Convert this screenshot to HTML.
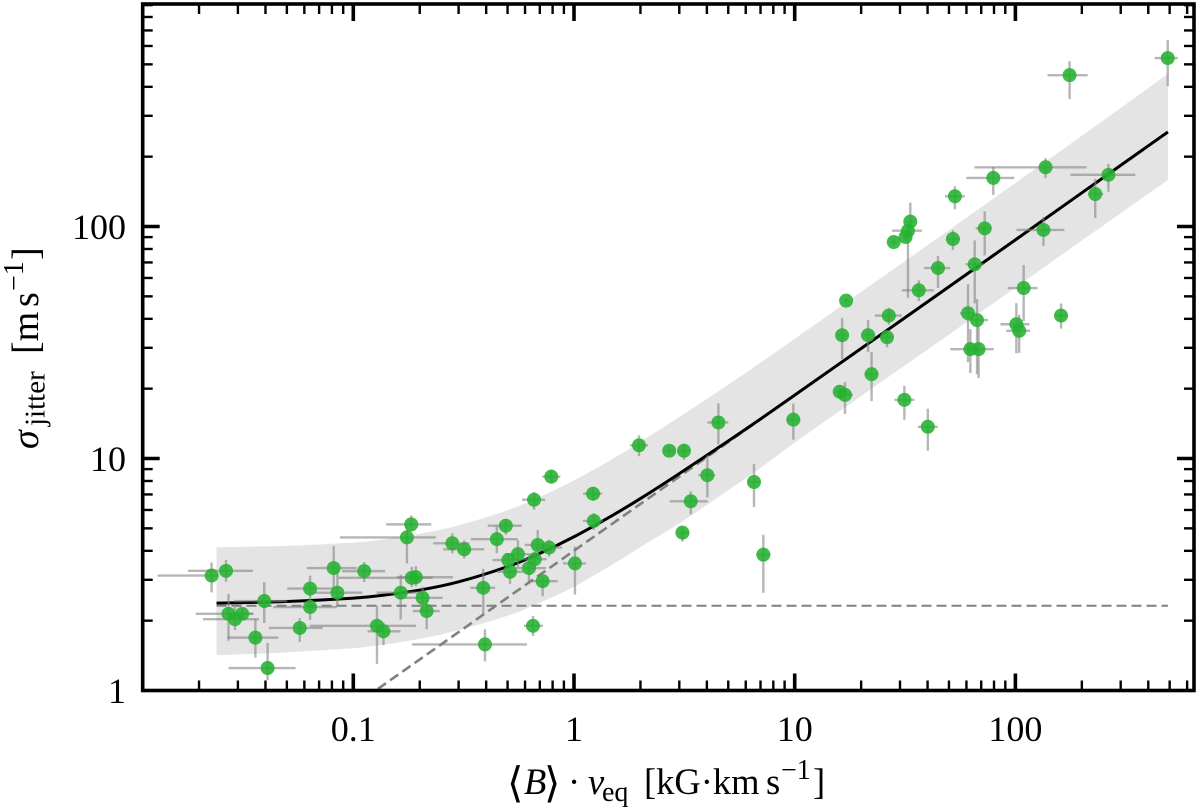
<!DOCTYPE html>
<html lang="en">
<head>
<meta charset="utf-8">
<title>Jitter versus magnetic activity</title>
<style>
html,body{margin:0;padding:0;background:#fff;}
svg{display:block;}
text{font-family:"Liberation Serif","DejaVu Serif",serif;fill:#000;}
</style>
</head>
<body>
<svg id="chart" xmlns="http://www.w3.org/2000/svg" width="1200" height="811" viewBox="0 0 1200 811">
  <defs>
    <clipPath id="plot-clip"><rect x="142.7" y="4" width="1051.3" height="686.5"/></clipPath>
  </defs>
  <rect x="0" y="0" width="1200" height="811" fill="#fff"/>
  <g clip-path="url(#plot-clip)">
    <path id="band" fill="#e4e4e4"/>
    <path id="floor-line" fill="none" stroke="#808080" stroke-width="2" stroke-dasharray="10 5"/>
    <path id="power-line" fill="none" stroke="#808080" stroke-width="2.6" stroke-dasharray="10 5"/>
    <path id="fit-line" fill="none" stroke="#000" stroke-width="3" stroke-linejoin="round"/>
    <g id="errors"></g>
    <g id="points"></g>
  </g>
  <g id="ticks"></g>
  <rect x="142.7" y="4" width="1051.3" height="686.5" fill="none" stroke="#000" stroke-width="3.6"/>
  <g id="tick-labels" font-size="36"></g>
  <g font-size="36.5">
    <text x="507" y="797" font-family="'DejaVu Serif',serif" font-size="42">⟨</text>
    <text x="524" y="794" font-style="italic">B</text>
    <text x="544" y="797" font-family="'DejaVu Serif',serif" font-size="42">⟩</text>
    <text x="568" y="794">·</text>
    <text x="588" y="794" font-style="italic">v</text>
    <text x="602" y="801" font-size="28">eq</text>
    <text x="644" y="794">[kG·km</text>
    <text x="766" y="794">s</text>
    <text x="781" y="779" font-size="28">−1</text>
    <text x="813" y="794">]</text>
  </g>
  <g font-size="38" transform="translate(38,0) rotate(-90)">
    <text x="-449" y="0" font-style="italic">σ</text>
    <text x="-426" y="6.5" font-size="29">jitter</text>
    <text x="-354" y="0">[m</text>
    <text x="-307" y="0">s</text>
    <text x="-291" y="-15" font-size="28">−1</text>
    <text x="-260" y="0">]</text>
  </g>
</svg>
<script>
/* Tick values */
const xMajorTicks = [0.1, 1, 10, 100];
const xMinorTicks = [0.02, 0.03, 0.04, 0.05, 0.06, 0.07, 0.08, 0.09, 0.2, 0.3, 0.4, 0.5, 0.6, 0.7, 0.8, 0.9, 2, 3, 4, 5, 6, 7, 8, 9, 20, 30, 40, 50, 60, 70, 80, 90, 200, 300, 400, 500, 600];
const yMajorTicks = [10, 100];
const yMinorTicks = [2, 3, 4, 5, 6, 7, 8, 9, 20, 30, 40, 50, 60, 70, 80, 90, 200, 300, 400, 500, 600, 700, 800, 900];
const xTickLabels = ["0.1", "1", "10", "100"];
const yTickLabels = ["1", "10", "100"];
const yLabelValues = [1, 10, 100];

/* Fit curve and band */
const fitX = [0.024, 0.03, 0.05, 0.08, 0.12, 0.2, 0.3, 0.5, 0.7, 1, 1.5, 2, 3, 5, 7, 10, 20, 50, 100, 200, 491];
const fitY = [2.38, 2.39, 2.42, 2.47, 2.54, 2.71, 2.94, 3.42, 3.90, 4.60, 5.70, 6.72, 8.61, 11.9, 14.8, 18.76, 29.8, 55.0, 87.6, 139.7, 255.6];
const bandHigh = [4.14, 4.16, 4.2, 4.29, 4.41, 4.74, 5.15, 5.98, 6.83, 8.05, 9.98, 11.8, 15.1, 20.8, 25.9, 32.8, 52.2, 96.5, 154, 246, 455];
const bandLow = [1.42, 1.43, 1.46, 1.5, 1.55, 1.67, 1.82, 2.1, 2.39, 2.8, 3.5, 4.15, 5.25, 7.3, 9.1, 11.7, 18.6, 34.2, 54.5, 87, 158.6];

/* Dashed asymptotes */
const floorX = [0.024, 491];
const floorY = [2.32, 2.32];
const powerX = [0.1, 491];
const powerY = [0.855, 255];

/* Measurements */
const activity = [0.0228,0.0265,0.0272,0.0291,0.0314,0.0360,0.0395,0.0409,0.0572,0.0637,0.0637,0.0815,0.0847,0.112,0.128,0.137,0.164,0.184,0.192,0.206,0.215,0.175,0.183,0.281,0.318,0.388,0.395,0.447,0.491,0.504,0.513,0.557,0.625,0.664,0.721,0.652,0.685,0.771,0.659,0.789,1.01,1.22,1.23,1.97,2.70,3.15,4.02,3.38,3.10,4.51,6.54,7.21,9.86,17.1,16.4,16.0,16.9,21.5,26.7,26.2,22.3,31.4,40.1,28.1,31.8,32.6,33.4,36.5,44.6,52.1,53.2,79.4,72.6,65.4,61.0,67.0,62.5,68.1,109,101,104,161,134,137,230,264,176,490];
const jitter = [3.13,3.28,2.14,2.03,2.14,1.69,2.43,1.25,1.86,2.75,2.29,3.37,2.64,3.27,1.90,1.80,2.64,3.06,3.08,2.51,2.20,4.57,5.20,4.31,4.06,2.77,1.58,4.49,5.13,3.65,3.25,3.87,3.37,3.68,2.96,1.90,4.24,4.13,6.64,8.35,3.53,7.05,5.38,11.4,10.8,10.8,8.47,6.54,4.79,14.3,7.92,3.85,14.7,47.9,34.0,19.4,18.8,34.0,41.3,33.3,23.1,17.9,13.7,85.7,90.1,95.9,105,53.1,66.2,88.3,135,162,98.2,68.7,42.3,39.5,29.6,29.6,54.3,37.9,35.5,41.3,96.6,180,138,167,449,532];
/* Error bars, in dex */
const activityErrLow = [.245,.172,.149,.145,.068,.127,.136,.177,.140,.104,.168,.122,.109,.100,.304,.072,.109,.331,.086,.113,.063,.304,.113,.086,.095,.059,.331,.118,.082,.072,.059,.059,.063,.059,.063,.041,.059,.063,.054,.041,.054,.045,.050,.041,.023,.023,.041,.095,.014,.050,.027,.032,.032,.014,.023,.023,.032,.032,.063,.032,.032,.045,.045,.014,.018,.072,.018,.077,.063,.027,.045,.122,.041,.041,.036,.045,.091,.032,.072,.072,.059,.027,.122,.322,.032,.172,.100,.059];
const activityErrHigh = [.032,.122,.113,.109,.050,.104,.104,.127,.104,.104,.122,.104,.113,.095,.177,.077,.100,.095,.168,.091,.059,.131,.091,.077,.091,.054,.190,.095,.072,.059,.059,.054,.077,.054,.068,.045,.063,.059,.050,.041,.050,.041,.041,.041,.023,.023,.036,.077,.032,.045,.027,.032,.032,.014,.023,.023,.036,.032,.059,.027,.027,.045,.045,.014,.018,.063,.018,.068,.054,.032,.045,.095,.032,.041,.032,.050,.027,.068,.063,.059,.050,.027,.095,.186,.036,.122,.082,.045];
const jitterErrHigh = [.056,.047,.086,.052,.026,.078,.082,.108,.043,.056,.030,.095,.099,.039,.086,.039,.078,.047,.047,.047,.047,.060,.039,.043,.039,.082,.065,.056,.026,.026,.034,.060,.030,.034,.022,.043,.065,.034,.034,.030,.073,.030,.034,.043,.017,.030,.086,.043,.026,.082,.078,.086,.069,.013,.073,.022,.056,.065,.034,.030,.095,.060,.078,.013,.017,.022,.082,.043,.052,.039,.043,.047,.073,.103,.125,.091,.086,.103,.099,.091,.069,.052,.056,.039,.065,.047,.060,.078];
const jitterErrLow = [.073,.047,.116,.047,.026,.086,.095,.052,.060,.056,.056,.095,.056,.047,.164,.060,.116,.039,.039,.060,.078,.112,.030,.043,.039,.112,.073,.060,.039,.026,.052,.056,.065,.043,.065,.043,.056,.039,.043,.030,.134,.030,.039,.047,.017,.039,.095,.056,.039,.095,.108,.164,.086,.013,.103,.026,.082,.073,.039,.043,.116,.086,.103,.013,.017,.289,.060,.047,.086,.047,.056,.073,.116,.168,.211,.233,.103,.125,.142,.125,.095,.056,.069,.047,.103,.073,.103,.121];

const NS = "http://www.w3.org/2000/svg";
function xScale(v) { return 574 + 220.7 * Math.log10(v); }
function yScale(v) { return 690.5 - 232 * Math.log10(v); }
function linePath(xs, ys) {
  return xs.map(function (x, i) {
    return (i ? "L" : "M") + xScale(x).toFixed(2) + " " + yScale(ys[i]).toFixed(2);
  }).join("");
}
/* Smooth curve through the values with Catmull-Rom segments */
function smoothSegments(xs, ys) {
  const p = xs.map(function (x, i) { return [xScale(x), yScale(ys[i])]; });
  let d = "";
  for (let i = 0; i < p.length - 1; i++) {
    const a = p[Math.max(i - 1, 0)];
    const b = p[i];
    const c = p[i + 1];
    const e = p[Math.min(i + 2, p.length - 1)];
    d += "C" + (b[0] + (c[0] - a[0]) / 6).toFixed(2) + " " + (b[1] + (c[1] - a[1]) / 6).toFixed(2) + " " +
         (c[0] - (e[0] - b[0]) / 6).toFixed(2) + " " + (c[1] - (e[1] - b[1]) / 6).toFixed(2) + " " +
         c[0].toFixed(2) + " " + c[1].toFixed(2);
  }
  return d;
}
function smoothPath(xs, ys) {
  return "M" + xScale(xs[0]).toFixed(2) + " " + yScale(ys[0]).toFixed(2) + smoothSegments(xs, ys);
}
function makeLine(parent, x1, y1, x2, y2, color, width) {
  const el = document.createElementNS(NS, "line");
  el.setAttribute("x1", x1);
  el.setAttribute("y1", y1);
  el.setAttribute("x2", x2);
  el.setAttribute("y2", y2);
  el.setAttribute("stroke", color);
  el.setAttribute("stroke-width", width);
  parent.appendChild(el);
  return el;
}

const reversedX = fitX.slice().reverse();
const reversedLow = bandLow.slice().reverse();
document.getElementById("band").setAttribute("d",
  smoothPath(fitX, bandHigh) + "L" + xScale(reversedX[0]).toFixed(2) + " " + yScale(reversedLow[0]).toFixed(2) + smoothSegments(reversedX, reversedLow) + "Z");
document.getElementById("fit-line").setAttribute("d", smoothPath(fitX, fitY));
document.getElementById("floor-line").setAttribute("d", linePath(floorX, floorY));
document.getElementById("power-line").setAttribute("d", linePath(powerX, powerY));

const errors = document.getElementById("errors");
const points = document.getElementById("points");
activity.forEach(function (x, i) {
  const y = jitter[i];
  const cx = xScale(x);
  const cy = yScale(y);
  const h = makeLine(errors, xScale(x * Math.pow(10, -activityErrLow[i])), cy, xScale(x * Math.pow(10, activityErrHigh[i])), cy, "rgba(130,130,130,.58)", 2.4);
  
  
  const v = makeLine(errors, cx, yScale(y * Math.pow(10, jitterErrHigh[i])), cx, yScale(y * Math.pow(10, -jitterErrLow[i])), "rgba(130,130,130,.58)", 2.4);
  
  
  const dot = document.createElementNS(NS, "circle");
  dot.setAttribute("cx", cx);
  dot.setAttribute("cy", cy);
  dot.setAttribute("r", 7);
  dot.setAttribute("fill", "rgba(36,178,48,.88)");
  
  
  points.appendChild(dot);
});

const ticks = document.getElementById("ticks");
function addXTick(v, len, width, kind) {
  const px = xScale(v);
  const b = makeLine(ticks, px, 690.5, px, 690.5 - len, "#000", width);
  
  
  const t = makeLine(ticks, px, 4, px, 4 + len, "#000", width);
  
  
}
function addYTick(v, len, width, kind) {
  const py = yScale(v);
  const l = makeLine(ticks, 142.7, py, 142.7 + len, py, "#000", width);
  
  
  const r = makeLine(ticks, 1194, py, 1194 - len, py, "#000", width);
  
  
}
xMajorTicks.forEach(function (v) { addXTick(v, 17, 3.6, "major"); });
xMinorTicks.forEach(function (v) { addXTick(v, 10, 2.4, "minor"); });
yMajorTicks.forEach(function (v) { addYTick(v, 17, 3.6, "major"); });
yMinorTicks.forEach(function (v) { addYTick(v, 10, 2.4, "minor"); });

const tickLabels = document.getElementById("tick-labels");
xTickLabels.forEach(function (label, i) {
  const t = document.createElementNS(NS, "text");
  t.setAttribute("x", xScale(xMajorTicks[i]));
  t.setAttribute("y", 741);
  t.setAttribute("text-anchor", "middle");
  
  
  t.textContent = label;
  tickLabels.appendChild(t);
});
yTickLabels.forEach(function (label, i) {
  const t = document.createElementNS(NS, "text");
  t.setAttribute("x", 126);
  t.setAttribute("y", yScale(yLabelValues[i]) + 12.5);
  t.setAttribute("text-anchor", "end");
  
  
  t.textContent = label;
  tickLabels.appendChild(t);
});
</script>
</body>
</html>
